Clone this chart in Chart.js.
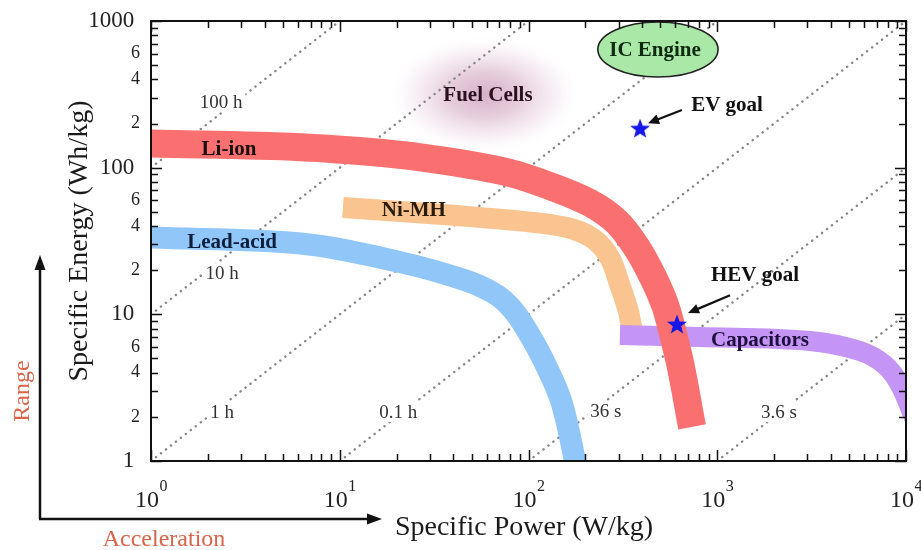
<!DOCTYPE html>
<html><head><meta charset="utf-8">
<script src="https://cdn.jsdelivr.net/npm/chart.js@4.4.1/dist/chart.umd.min.js"></script>
<style>html,body{margin:0;padding:0;background:#fff}canvas{display:block}</style>
</head><body>
<canvas id="c" width="921" height="550"></canvas>
<script>
// ---------- data ----------
// Specific power (W/kg) / specific energy (Wh/kg) along the centre of each band
const liIonPower   = [1, 6.2, 16.9, 33.9, 76.8, 130, 212, 294, 376, 457, 529, 576, 642, 735];
const liIonEnergy  = [146, 138, 125.8, 112.7, 93.3, 74.9, 57.4, 42.6, 28.3, 17.9, 11.6, 7.82, 4.37, 1.71];
const niMhPower    = [10.4, 38.4, 115, 172, 225, 270, 305, 337, 358];
const niMhEnergy   = [53.5, 47.5, 41.9, 38.1, 32.1, 24.2, 15.8, 10.7, 7.22];
const leadPower    = [1, 6.2, 20.9, 47.2, 68.1, 82.8, 99.4, 122, 150, 183];
const leadEnergy   = [33.4, 30.4, 22.7, 16.9, 13.5, 10.7, 7.57, 4.66, 2.49, 0.80];
const capPower     = [305, 811, 3100, 5700, 7740, 9300, 11160];
const capEnergy    = [7.22, 7.0, 6.58, 5.62, 4.51, 3.30, 1.9];

// goals (stars)
const goalNames  = ['EV goal', 'HEV goal'];
const goalPower  = [390, 612];
const goalEnergy = [186, 8.6];

// constant discharge-time lines
const timeLabels   = ['100 h', '10 h', '1 h', '0.1 h', '36 s', '3.6 s'];
const timeLineFrom = [[1, 100], [1, 10], [1, 1], [10, 1], [100, 1], [1000, 1]];
const timeLineTo   = [[10, 1000], [100, 1000], [1000, 1000], [10000, 1000], [10000, 100], [10000, 10]];
const timeLabelPos = [[2.35, 280], [2.38, 19.1], [2.38, 2.16], [20.4, 2.16], [257, 2.19], [2125, 2.16]];

// text annotations
const noteText = ['Li-ion', 'Ni-MH', 'Lead-acid', 'Capacitors', 'Fuel Cells', 'IC Engine', 'EV goal', 'HEV goal'];
const notePos  = [[2.59, 136], [24.7, 51.4], [2.69, 31.1], [1684, 6.68], [61, 313], [468, 634], [1127, 271], [1585, 18.8]];
const arrowFrom = [[650, 247], [1169, 13.5]];
const arrowTo   = [[430, 201], [700, 10.2]];

// regions
const fuelCellX = [18, 190],  fuelCellY = [125, 800];
const icEngineX = [233, 1010], icEngineY = [415, 984];

// axes
const xTickValues = [1,2,3,4,5,6,7,8,9,10,20,30,40,50,60,70,80,90,100,200,300,400,500,600,700,800,900,1000,2000,3000,4000,5000,6000,7000,8000,9000,10000];
const xMajorTicks = [1, 10, 100, 1000, 10000];
const xTickExponents = ['0', '1', '2', '3', '4'];
const yTickValues = [1,2,3,4,5,6,7,8,9,10,20,30,40,50,60,70,80,90,100,200,300,400,500,600,700,800,900,1000];
const yTickLabels = ['1 ','2','','4','','6','','','','10 ','2','','4','','6','','','','100 ','2','','4','','6','','','','1000 '];
const yMajorTicks = [1, 10, 100, 1000];

// ---------- drawing ----------
const SERIF = '"Liberation Serif", "Times New Roman", serif';
Chart.defaults.font.family = SERIF;

function pts(xs, ys) { return xs.map((x, i) => ({ x, y: ys[i] })); }

function makeStar(size, color) {
  const c = document.createElement('canvas'); c.width = c.height = size;
  const g = c.getContext('2d'); g.fillStyle = color; g.beginPath();
  const cx = size / 2, cy = size / 2 + 1, R = size / 2 - 0.5, r = R * 0.42;
  for (let i = 0; i < 10; i++) {
    const a = -Math.PI / 2 + i * Math.PI / 5, rr = i % 2 ? r : R;
    g.lineTo(cx + rr * Math.cos(a), cy + rr * Math.sin(a));
  }
  g.closePath(); g.fill(); return c;
}
const starImg = makeStar(22, '#1616e8');

function band(label, xs, ys, color, width, order) {
  return { label, data: pts(xs, ys), borderColor: color, borderWidth: width,
    borderCapStyle: 'butt', borderJoinStyle: 'round', tension: 0.35,
    pointRadius: 0, fill: false, order, clip: 0 };
}

const datasets = [];
timeLineFrom.forEach((p, i) => datasets.push({
  label: timeLabels[i],
  data: [{ x: p[0], y: p[1] }, { x: timeLineTo[i][0], y: timeLineTo[i][1] }],
  borderColor: '#858585', borderWidth: 2.4, borderDash: [0.1, 6.2], borderCapStyle: 'round',
  pointRadius: 0, fill: false, order: 20, clip: 0
}));
datasets.push(band('Lead-acid', leadPower, leadEnergy, '#90c6f8', 22, 5));
datasets.push(band('Ni-MH', niMhPower, niMhEnergy, '#f9c48f', 21, 4));
datasets.push(band('Capacitors', capPower, capEnergy, '#c495f5', 20, 3));
datasets.push(band('Li-ion', liIonPower, liIonEnergy, '#fa7070', 28, 2));
datasets.push({ label: 'Goals', data: pts(goalPower, goalEnergy), showLine: false,
  pointStyle: starImg, pointRadius: 11, order: 0, clip: false });

function P(chart, v) { return [chart.scales.x.getPixelForValue(v[0]), chart.scales.y.getPixelForValue(v[1])]; }

function arrow(ctx, x1, y1, x2, y2, head, hw) {
  const a = Math.atan2(y2 - y1, x2 - x1);
  ctx.beginPath(); ctx.moveTo(x1, y1);
  ctx.lineTo(x2 - head * 0.8 * Math.cos(a), y2 - head * 0.8 * Math.sin(a)); ctx.stroke();
  ctx.beginPath(); ctx.moveTo(x2, y2);
  ctx.lineTo(x2 - head * Math.cos(a) + hw * Math.sin(a), y2 - head * Math.sin(a) - hw * Math.cos(a));
  ctx.lineTo(x2 - head * Math.cos(a) - hw * Math.sin(a), y2 - head * Math.sin(a) + hw * Math.cos(a));
  ctx.closePath(); ctx.fill();
}

const decor = {
  id: 'decor',
  beforeDatasetsDraw(chart) {
    const ctx = chart.ctx;
    const [x1, y1] = P(chart, [fuelCellX[0], fuelCellY[1]]);
    const [x2, y2] = P(chart, [fuelCellX[1], fuelCellY[0]]);
    const cx = (x1 + x2) / 2, cy = (y1 + y2) / 2, rx = (x2 - x1) / 2, ry = (y2 - y1) / 2;
    ctx.save();
    ctx.translate(cx, cy); ctx.scale(1, ry / rx);
    const g = ctx.createRadialGradient(0, 0, 0, 0, 0, rx);
    g.addColorStop(0, 'rgba(180,110,150,0.55)');
    g.addColorStop(0.4, 'rgba(195,135,170,0.40)');
    g.addColorStop(0.75, 'rgba(220,180,205,0.18)');
    g.addColorStop(1, 'rgba(255,255,255,0)');
    ctx.fillStyle = g; ctx.beginPath(); ctx.arc(0, 0, rx, 0, Math.PI * 2); ctx.fill();
    ctx.restore();
  },
  afterDatasetsDraw(chart) {
    const ctx = chart.ctx;
    const { left, right, top, bottom } = chart.chartArea;
    const xs = chart.scales.x, ys = chart.scales.y;
    ctx.save();
    // IC engine ellipse
    {
      const [x1, y1] = P(chart, [icEngineX[0], icEngineY[1]]);
      const [x2, y2] = P(chart, [icEngineX[1], icEngineY[0]]);
      ctx.beginPath();
      ctx.ellipse((x1 + x2) / 2, (y1 + y2) / 2, (x2 - x1) / 2, (y2 - y1) / 2, 0, 0, Math.PI * 2);
      ctx.fillStyle = '#a9e8a7'; ctx.fill();
      ctx.lineWidth = 1.6; ctx.strokeStyle = '#222'; ctx.stroke();
    }
    // time-line labels
    ctx.font = '19px ' + SERIF; ctx.textAlign = 'center'; ctx.textBaseline = 'middle';
    timeLabels.forEach((t, i) => {
      const [px, py] = P(chart, timeLabelPos[i]);
      const w = ctx.measureText(t).width;
      ctx.fillStyle = '#fff'; ctx.fillRect(px - w / 2 - 3, py - 10, w + 6, 20);
      ctx.fillStyle = '#333'; ctx.fillText(t, px, py + 1);
    });
    // annotation texts
    const noteColor = ['#1a0f0f', '#2a1a0a', '#0e1f3e', '#1e0f3c', '#2a0f1e', '#0f2a10', '#111', '#111'];
    ctx.font = 'bold 21px ' + SERIF;
    noteText.forEach((t, i) => {
      const [px, py] = P(chart, notePos[i]);
      ctx.fillStyle = noteColor[i]; ctx.fillText(t, px, py + 1);
    });
    // arrows to goals
    ctx.strokeStyle = '#111'; ctx.fillStyle = '#111'; ctx.lineWidth = 2.2;
    arrowFrom.forEach((f, i) => {
      const [a1, b1] = P(chart, f), [a2, b2] = P(chart, arrowTo[i]);
      arrow(ctx, a1, b1, a2, b2, 11, 5);
    });
    // frame
    ctx.lineWidth = 2; ctx.strokeStyle = '#111';
    ctx.strokeRect(left, top, right - left, bottom - top);
    // ticks (inward)
    ctx.lineWidth = 1.5;
    ctx.beginPath();
    xTickValues.forEach(v => {
      const px = Math.round(xs.getPixelForValue(v)) + 0.5;
      const L = xMajorTicks.includes(v) ? 11 : 7;
      ctx.moveTo(px, bottom); ctx.lineTo(px, bottom - L);
      ctx.moveTo(px, top); ctx.lineTo(px, top + L);
    });
    yTickValues.forEach(v => {
      const py = Math.round(ys.getPixelForValue(v)) + 0.5;
      const L = yMajorTicks.includes(v) ? 11 : 7;
      ctx.moveTo(left, py); ctx.lineTo(left + L, py);
      ctx.moveTo(right, py); ctx.lineTo(right - L, py);
    });
    ctx.stroke();
    // x tick labels 10^n
    ctx.fillStyle = '#222'; ctx.textBaseline = 'alphabetic';
    xMajorTicks.forEach((v, i) => {
      const px = xs.getPixelForValue(v);
      ctx.font = '24px ' + SERIF;
      const wb = ctx.measureText('10').width;
      ctx.font = '16px ' + SERIF;
      const we = ctx.measureText(xTickExponents[i]).width;
      const x0 = px - (wb + we) / 2;
      ctx.textAlign = 'left';
      ctx.font = '24px ' + SERIF; ctx.fillText('10', x0, 507);
      ctx.font = '16px ' + SERIF; ctx.fillText(xTickExponents[i], x0 + wb + 0.5, 491);
    });
    ctx.restore();
  },
  afterDraw(chart) {
    const ctx = chart.ctx;
    const { top, bottom } = chart.chartArea;
    ctx.save();
    // axis titles
    ctx.fillStyle = '#1a1a1a'; ctx.textBaseline = 'alphabetic'; ctx.textAlign = 'center';
    ctx.font = '28px ' + SERIF;
    ctx.fillText('Specific Power (W/kg)', 524, 535);
    ctx.save(); ctx.translate(87, (top + bottom) / 2); ctx.rotate(-Math.PI / 2);
    ctx.fillText('Specific Energy (Wh/kg)', 0, 0); ctx.restore();
    // Range / Acceleration arrows
    ctx.strokeStyle = '#111'; ctx.fillStyle = '#111'; ctx.lineWidth = 2.5;
    ctx.beginPath(); ctx.moveTo(40, 519); ctx.lineTo(40, 268); ctx.stroke();
    ctx.beginPath(); ctx.moveTo(40, 255); ctx.lineTo(34.5, 270); ctx.lineTo(45.5, 270); ctx.closePath(); ctx.fill();
    ctx.beginPath(); ctx.moveTo(39, 519); ctx.lineTo(368, 519); ctx.stroke();
    ctx.beginPath(); ctx.moveTo(382, 519); ctx.lineTo(367, 513.5); ctx.lineTo(367, 524.5); ctx.closePath(); ctx.fill();
    ctx.fillStyle = '#d8644a'; ctx.font = '24px ' + SERIF;
    ctx.fillText('Acceleration', 164, 546);
    ctx.save(); ctx.translate(29, 391); ctx.rotate(-Math.PI / 2);
    ctx.fillText('Range', 0, 0); ctx.restore();
    ctx.restore();
  }
};

new Chart(document.getElementById('c'), {
  type: 'line',
  data: { datasets },
  plugins: [decor],
  options: {
    responsive: false, animation: false, devicePixelRatio: 1, events: [],
    layout: { padding: { left: 72, top: 21, right: 15, bottom: 0 } },
    plugins: { legend: { display: false }, tooltip: { enabled: false } },
    scales: {
      x: { type: 'logarithmic', min: 1, max: 10000,
        afterBuildTicks: s => { s.ticks = xTickValues.map(v => ({ value: v })); },
        afterFit: s => { s.height = 89; },
        ticks: { display: false }, grid: { display: false }, border: { display: false } },
      y: { type: 'logarithmic', min: 1, max: 1000,
        afterBuildTicks: s => { s.ticks = yTickValues.map(v => ({ value: v })); },
        afterFit: s => { s.width = 79; },
        ticks: { autoSkip: false, padding: 3, color: '#222',
          callback: (v, i) => yTickLabels[i],
          font: c => ({ family: SERIF, size: (c.tick && yMajorTicks.includes(c.tick.value)) ? 23 : 18 }) },
        grid: { display: false }, border: { display: false } }
    }
  }
});
</script>
</body></html>
